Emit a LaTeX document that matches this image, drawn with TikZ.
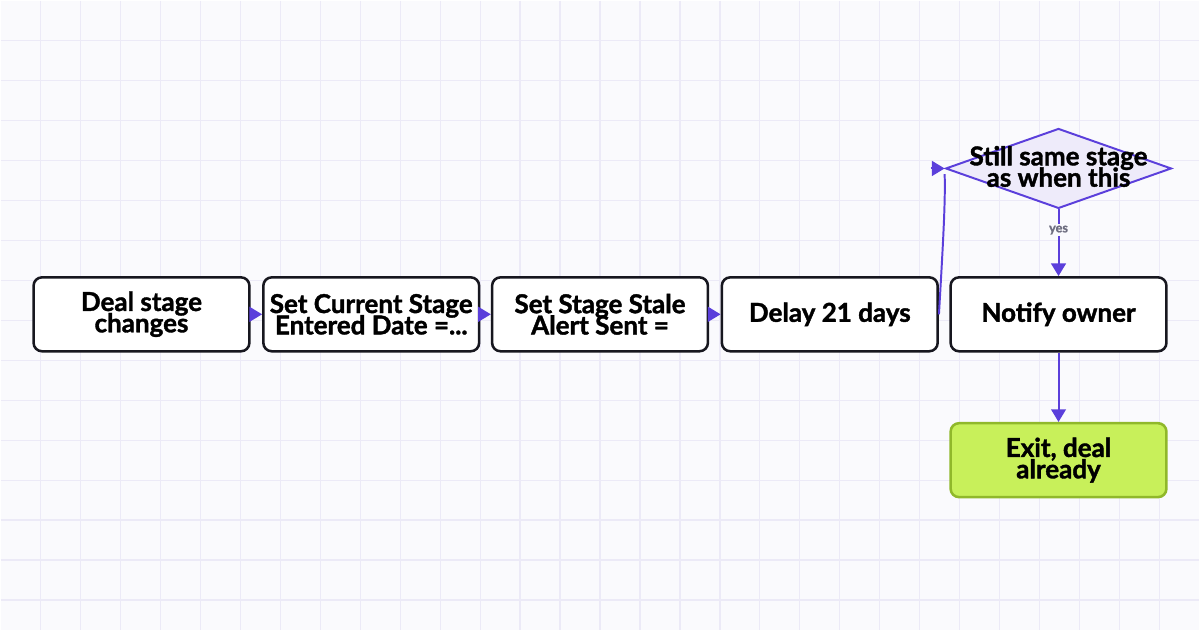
\documentclass[tikz,border=0pt]{standalone}
\usepackage{fontspec}
\setmainfont{Lato}[BoldFeatures={FakeBold=1.5}]
\usetikzlibrary{arrows.meta,shapes.geometric}
\definecolor{bgcol}{HTML}{FAFAFD}
\definecolor{gridcol}{HTML}{ECEAF7}
\definecolor{edgecol}{HTML}{5B3FDB}
\definecolor{boxline}{HTML}{17171F}
\definecolor{diafill}{HTML}{EEEBFA}
\definecolor{exitfill}{HTML}{C8F05A}
\definecolor{exitline}{HTML}{90B82A}
\definecolor{labcol}{HTML}{6E6E80}
\newcommand\tightlines{\lineskiplimit=-20pt\relax}

\begin{document}
\begin{tikzpicture}[x=0.025cm,y=-0.025cm,
    stepbox/.style={draw=boxline,fill=white,line width=1.8pt,rounded corners=6pt,
      minimum width=5.4cm,minimum height=1.85cm,inner sep=0pt,
      align=center,font=\fontsize{18.5}{15.2}\selectfont\bfseries\tightlines},
    exitbox/.style={stepbox,draw=exitline,fill=exitfill},
    check/.style={diamond,draw=edgecol,fill=diafill,line width=1.4pt,
      minimum width=5.65cm,minimum height=2cm,inner sep=0pt},
    checktext/.style={align=center,inner sep=0pt,
      font=\fontsize{18.5}{15.2}\selectfont\bfseries\tightlines},
    flow/.style={draw=edgecol,line width=1.4pt,-{Triangle[length=9pt,width=10.5pt]}},
    link/.style={draw=edgecol,line width=1.4pt},
    edgelab/.style={fill=bgcol,text=labcol,inner sep=1pt,font=\fontsize{9}{9}\selectfont\bfseries}]

  % background and grid
  \fill[bgcol] (0,0) rectangle (1200,630);
  \foreach \gx in {40,80,...,1160}
    \draw[gridcol,line width=0.9pt] (\gx,0) -- (\gx,630);
  \foreach \gy in {40,80,...,600}
    \draw[gridcol,line width=0.9pt] (0,\gy) -- (1200,\gy);
  \useasboundingbox (0,0) rectangle (1200,630);

  % nodes
  \node[stepbox] (change) at (141,314) {Deal stage\\changes};
  \node[stepbox] (entered) at (371,314) {Set Current Stage\\Entered Date =...};
  \node[stepbox] (stale) at (600,314) {Set Stage Stale\\Alert Sent =};
  \node[stepbox] (delay) at (830,314) {Delay 21 days};
  \node[check] (same) at (1059,168) {};
  \node[checktext] (sametext) at (1059,166) {Still same stage\\as when this};
  \node[stepbox] (notify) at (1059,314) {Notify owner};
  \node[exitbox] (exit) at (1059,460) {Exit, deal\\already};

  % connectors
  \draw[flow] (change) -- (entered);
  \draw[flow] (entered) -- (stale);
  \draw[flow] (stale) -- (delay);
  \draw[link]
    (delay.east) .. controls (943,250) and (946,200) .. ([yshift=-4pt]same.west);
  \draw[flow] ([xshift=-10pt]same.west) -- (same.west);
  \draw[flow]
    (same.south) -- (notify.north)
    node[pos=0.31,edgelab] {yes};
  \draw[flow] (notify) -- (exit);
\end{tikzpicture}
\end{document}
